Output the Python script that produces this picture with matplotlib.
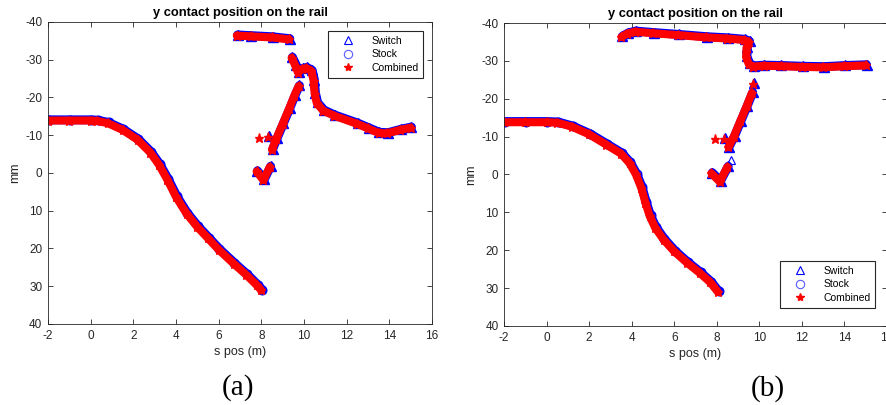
import numpy as np
import matplotlib
matplotlib.use("Agg")
from matplotlib import pyplot as plt
from matplotlib.lines import Line2D
from matplotlib.transforms import offset_copy

plt.rcParams['font.family'] = ['Liberation Sans', 'DejaVu Sans']
plt.rcParams['axes.unicode_minus'] = False

nan = np.nan

# ---- panel (a) ----
a_stock_s = [-2.0, -1.0, 0.0, 0.3, 0.8, 1.5, 2.2, 2.8, 3.2, 3.6, 4.0, 4.5, 5.0,
	5.5, 6.0, 6.7, 7.3, 7.8, 8.0]
a_stock_y = [-13.9, -13.9, -13.9, -13.8, -13.2, -11.4, -8.8, -5.4, -2.2, 1.8, 6.3,
	10.8, 14.3, 17.3, 20.3, 24.0, 27.0, 29.8, 31.1]

a_switch_s = [6.85, 7.5, 8.5, 9.3, nan,
	9.42, 9.6, 9.72, 9.9, 10.1, 10.35, 10.45, 10.5, 10.6, 10.9, 11.4, 12.5, 13.0,
	13.5, 13.9, 14.5, 15.0, nan,
	8.33, nan,
	8.5, 8.7, 9.0, 9.3, 9.55, 9.75, nan,
	7.78, 8.1, 8.4]
a_switch_y = [-36.4, -36.2, -35.9, -35.4, nan,
	-30.5, -28.4, -26.6, -27.5, -27.8, -27.0, -24.5, -21.0, -18.5, -16.5, -15.2,
	-13.0, -11.8, -10.6, -10.5, -11.4, -12.0, nan,
	-9.5, nan,
	-6.2, -9.0, -13.0, -17.0, -20.5, -23.0, nan,
	-0.4, 1.9, -1.6]
a_switch_only_s = []
a_switch_only_y = []
a_comb_only_s = [7.88]
a_comb_only_y = [-9.4]

# ---- panel (b) ----
b_stock_s = [-2.0, -1.0, 0.0, 0.5, 1.2, 2.0, 2.8, 3.5, 3.9, 4.2, 4.45, 4.65, 4.85,
	5.1, 5.5, 6.0, 6.6, 7.2, 7.7, 8.05]
b_stock_y = [-13.8, -13.8, -13.8, -13.7, -12.6, -10.6, -7.9, -5.5, -3.0, 0.0, 3.5,
	7.5, 11.0, 14.0, 17.2, 20.3, 23.3, 26.0, 28.5, 31.0]

b_switch_s = [3.52, 3.8, 4.15, 5.0, 6.2, 7.5, 8.5, 9.3, 9.5, 9.4, 9.38, 9.5, 9.7,
	10.2, 11.0, 12.0, 13.0, 14.0, 15.0, nan,
	8.35, nan,
	8.55, 8.8, 9.1, 9.4, 9.65, nan,
	9.7, nan,
	7.75, 8.14, 8.5]
b_switch_y = [-36.3, -37.2, -37.7, -37.3, -36.8, -36.2, -35.9, -35.5, -35.0, -33.5,
	-31.0, -29.2, -28.5, -28.7, -28.6, -28.4, -28.3, -28.6, -28.8, nan,
	-9.5, nan,
	-7.2, -10.0, -14.0, -18.0, -21.5, nan,
	-24.0, nan,
	-0.3, 1.9, -2.0]
b_switch_only_s = [8.68]
b_switch_only_y = [-3.8]
b_comb_only_s = [7.9]
b_comb_only_y = [-9.5]

xticks = list(range(-2, 17, 2))
yticks = list(range(-40, 41, 10))

fig = plt.figure(figsize=(8.87, 4.05), dpi=100)
ax1 = fig.add_axes([0.0541, 0.2, 0.4329, 0.7457])
ax2 = fig.add_axes([0.5682, 0.1951, 0.4318, 0.7481])

grey = '#262626'


def draw(ax, st_s, st_y, sw_s, sw_y, swo_s, swo_y, co_s, co_y):
	shift = offset_copy(ax.transData, fig=fig, x=0.6, y=0.5, units='points')
	ax.plot(st_s, st_y, color='blue', lw=6.4, marker='o', ms=6.2,
		solid_capstyle='round', transform=shift)
	ax.plot(sw_s, sw_y, color='blue', lw=6.4, marker='^', ms=6.8,
		solid_capstyle='round', transform=shift)
	ax.plot(swo_s, swo_y, ls='none', marker='^', ms=6, mfc='none', mec='blue',
		mew=0.8)
	cs = list(st_s) + [nan] + list(sw_s) + [nan] + list(co_s)
	cy = list(st_y) + [nan] + list(sw_y) + [nan] + list(co_y)
	ax.plot(cs, cy, color='red', lw=5.8, marker='*', ms=6.5,
		solid_capstyle='round')

	ax.set_xlim(-2, 16)
	ax.set_ylim(40, -40)
	ax.set_xticks(xticks)
	ax.set_yticks(yticks)
	ax.tick_params(direction='in', length=3.5, width=0.6, top=True, right=True,
		labelsize=8.5, colors=grey, pad=4)
	for sp in ax.spines.values():
		sp.set_color(grey)
		sp.set_linewidth(0.6)
	ax.set_title('y contact position on the rail', fontsize=9.3, fontweight='bold',
		pad=4)
	ax.set_xlabel('s pos (m)', fontsize=9, color=grey, labelpad=3)
	ax.set_ylabel('mm', fontsize=9, color=grey, labelpad=3)


draw(ax1, a_stock_s, a_stock_y, a_switch_s, a_switch_y, a_switch_only_s,
	a_switch_only_y, a_comb_only_s, a_comb_only_y)
draw(ax2, b_stock_s, b_stock_y, b_switch_s, b_switch_y, b_switch_only_s,
	b_switch_only_y, b_comb_only_s, b_comb_only_y)

handles = [
	Line2D([], [], ls='none', marker='^', ms=6, mfc='none', mec='blue', mew=0.8),
	Line2D([], [], ls='none', marker='o', ms=6, mfc='none', mec='#5a5aff', mew=0.8),
	Line2D([], [], ls='none', marker='*', ms=6, color='red'),
]
names = ['Switch', 'Stock', 'Combined']

for ax, loc, anchor in [(ax1, 'upper right', (0.977, 0.97)),
		(ax2, 'lower right', (0.969, 0.06))]:
	leg = ax.legend(handles, names, loc=loc, bbox_to_anchor=anchor, fontsize=7.5,
		fancybox=False, framealpha=1, edgecolor='#262626', handlelength=3.0,
		handletextpad=0.7, borderpad=0.45, labelspacing=0.35, borderaxespad=0)
	leg.get_frame().set_linewidth(0.8)

fig.text(238 / 887, 1 - 388 / 405, '(a)', ha='center', va='center',
	family='Liberation Serif', fontsize=21)
fig.text(768 / 887, 1 - 389 / 405, '(b)', ha='center', va='center',
	family='Liberation Serif', fontsize=21)

fig.savefig('out.png', dpi=100)
